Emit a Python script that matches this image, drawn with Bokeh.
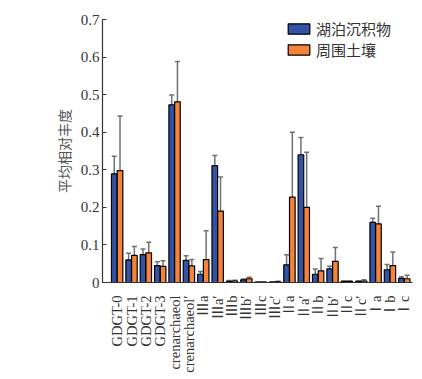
from bokeh.plotting import figure
from bokeh.models import ColumnDataSource, FixedTicker, Legend, LegendItem, Whisker, TeeHead, Range1d
from bokeh.embed import file_html
from bokeh.resources import INLINE

categories = ["GDGT-0", "GDGT-1", "GDGT-2", "GDGT-3", "crenarchaeol", "crenarchaeol′",
              "Ⅲa", "Ⅲa′", "Ⅲb", "Ⅲb′", "Ⅲc", "Ⅲc′",
              "Ⅱa", "Ⅱa′", "Ⅱb", "Ⅱb′", "Ⅱc", "Ⅱc′",
              "Ⅰa", "Ⅰb", "Ⅰc"]
lake_mean = [0.289, 0.060, 0.074, 0.045, 0.473, 0.059,
             0.022, 0.311, 0.003, 0.007, 0.001, 0.001,
             0.047, 0.340, 0.022, 0.036, 0.003, 0.003,
             0.160, 0.034, 0.011]
lake_err_top = [0.336, 0.078, 0.089, 0.055, 0.499, 0.071,
                0.029, 0.338, 0.005, 0.009, 0.001, 0.002,
                0.074, 0.386, 0.036, 0.043, 0.004, 0.004,
                0.171, 0.048, 0.015]
soil_mean = [0.298, 0.072, 0.079, 0.043, 0.481, 0.044,
             0.061, 0.190, 0.004, 0.010, 0.001, 0.002,
             0.227, 0.200, 0.031, 0.056, 0.003, 0.004,
             0.156, 0.045, 0.010]
soil_err_top = [0.443, 0.096, 0.107, 0.058, 0.588, 0.061,
                0.138, 0.281, 0.006, 0.014, 0.001, 0.003,
                0.400, 0.347, 0.064, 0.093, 0.004, 0.007,
                0.203, 0.081, 0.019]
series_names = ["湖泊沉积物", "周围土壤"]
y_ticks = [0, 0.1, 0.2, 0.3, 0.4, 0.5, 0.6, 0.7]

BLUE = "#3553a6"
ORANGE = "#f5843a"
serif = "Liberation Serif"
label_font = "'Liberation Serif', 'Noto Sans CJK SC'"
cjk = "Noto Sans CJK SC"

idx = list(range(len(categories)))
off = 0.2
lake_src = ColumnDataSource(dict(x=[i - off for i in idx], top=lake_mean, up=lake_err_top))
soil_src = ColumnDataSource(dict(x=[i + off for i in idx], top=soil_mean, up=soil_err_top))

p = figure(width=422, height=379, output_backend="svg", toolbar_location=None,
           x_range=Range1d(-1.02, 20.57), y_range=Range1d(0, 0.7),
           min_border_left=102, min_border_right=10, min_border_top=19, min_border_bottom=97)
p.outline_line_color = None
p.xgrid.visible = False
p.ygrid.visible = False
p.background_fill_color = "white"
p.border_fill_color = "white"

r1 = p.vbar(x="x", top="top", width=0.39, bottom=0, source=lake_src,
            fill_color=BLUE, line_color="black", line_width=1.2)
r2 = p.vbar(x="x", top="top", width=0.39, bottom=0, source=soil_src,
            fill_color=ORANGE, line_color="black", line_width=1.2)

for src in (lake_src, soil_src):
    w = Whisker(base="x", lower="top", upper="up", source=src, dimension="height",
                line_color="#707070", line_width=1.5,
                upper_head=TeeHead(size=5, line_color="#707070", line_width=1.5),
                lower_head=None)
    p.add_layout(w)

# x axis
p.xaxis.ticker = FixedTicker(ticks=idx)
p.xaxis.major_label_overrides = {i: c for i, c in zip(idx, categories)}
p.xaxis.major_label_orientation = 1.5708
p.xaxis.major_tick_line_color = None
p.xaxis.minor_tick_line_color = None
p.xaxis.major_label_text_font = label_font
p.xaxis.major_label_text_font_size = "14.5px"
p.xaxis.major_label_text_color = "#333333"
p.xaxis.major_label_standoff = 7
p.xaxis.axis_line_color = "#333333"
p.xaxis.axis_line_width = 1.2

# y axis
p.yaxis.ticker = FixedTicker(ticks=y_ticks)
p.yaxis.major_label_overrides = {0: "0"}
p.yaxis.minor_tick_line_color = None
p.yaxis.major_tick_out = 0
p.yaxis.major_tick_in = 4
p.yaxis.major_tick_line_color = "#333333"
p.yaxis.axis_line_color = "#333333"
p.yaxis.axis_line_width = 1.2
p.yaxis.major_label_text_font = serif
p.yaxis.major_label_text_font_size = "15px"
p.yaxis.major_label_text_color = "#333333"
p.yaxis.major_label_standoff = 3
p.yaxis.axis_label = "平均相对丰度"
p.yaxis.axis_label_text_font = cjk
p.yaxis.axis_label_text_font_size = "14px"
p.yaxis.axis_label_text_font_style = "normal"
p.yaxis.axis_label_text_color = "#555555"
p.yaxis.axis_label_standoff = 4

legend = Legend(items=[LegendItem(label=series_names[0], renderers=[r1]),
                       LegendItem(label=series_names[1], renderers=[r2])],
                location=(183, 222), padding=0, margin=0, spacing=-7,
                glyph_width=27, glyph_height=13, label_height=18, label_standoff=4,
                label_text_font=cjk, label_text_font_size="15px", label_text_color="#333333",
                border_line_color=None, background_fill_alpha=0)
p.add_layout(legend)

open("out.html", "w").write(file_html(p, INLINE))
